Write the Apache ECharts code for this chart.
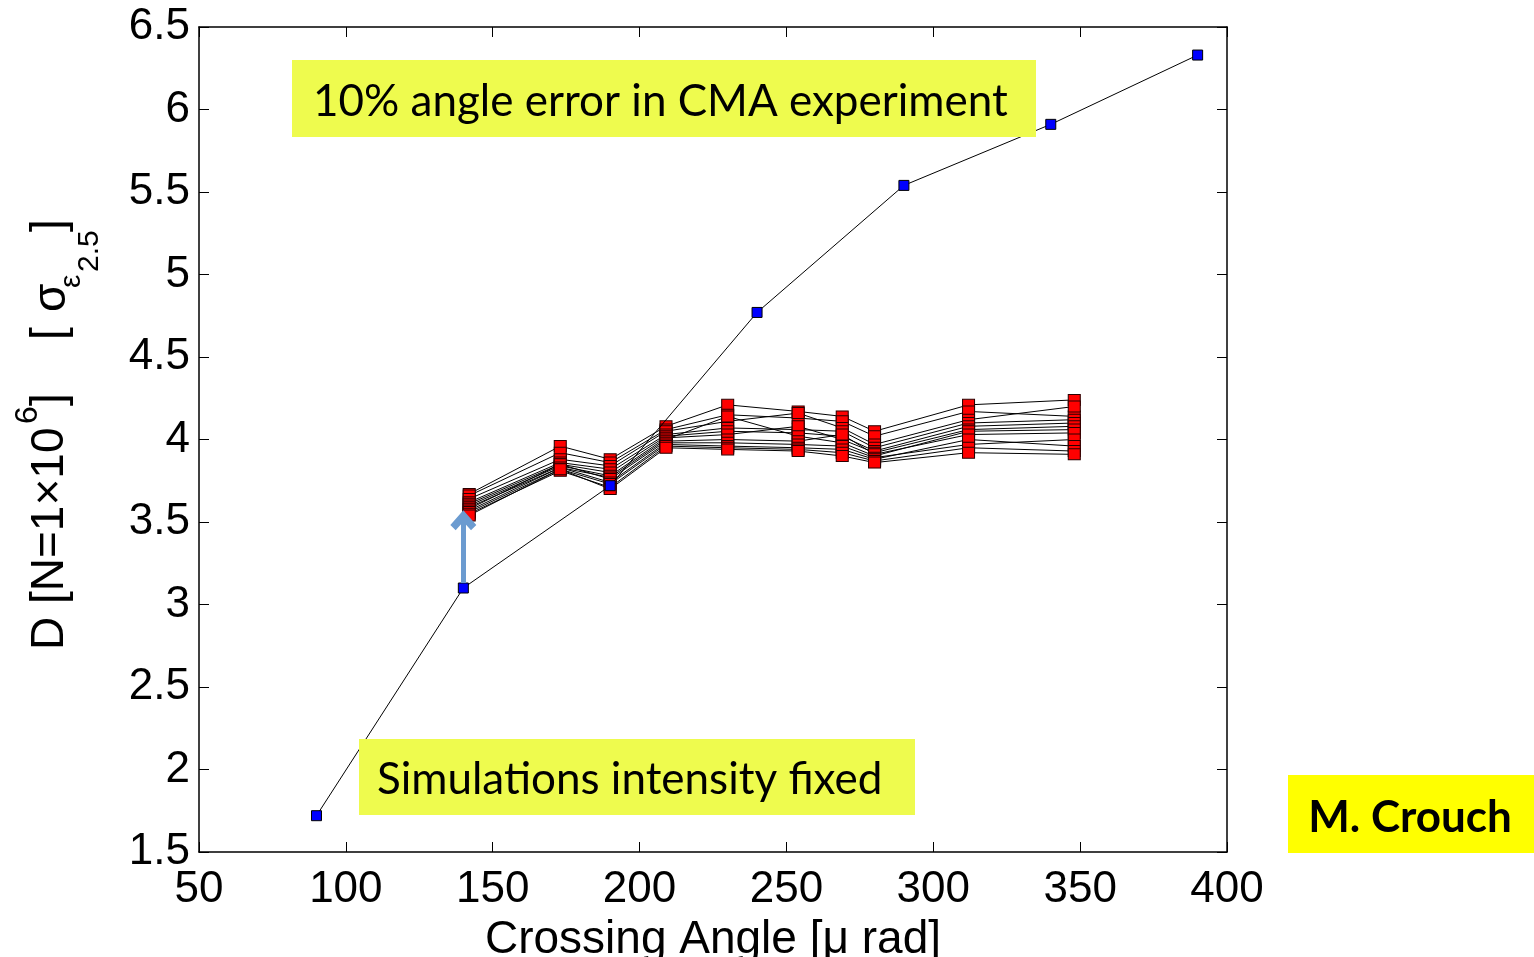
<!DOCTYPE html>
<html>
<head>
<meta charset="utf-8">
<script src="https://cdn.jsdelivr.net/npm/echarts@6/dist/echarts.min.js"></script>
<style>
  html, body { margin: 0; padding: 0; background: #fff; }
  #chart { width: 1534px; height: 957px; }
</style>
</head>
<body>
<div id="chart"></div>
<script>
// Crossing angles (μrad) and luminosity diffusion values
const cmaAngles = [90, 140, 190, 240, 290, 340, 390];
const cmaValues = [1.72, 3.10, 3.72, 4.77, 5.54, 5.91, 6.33];

const simAngles = [142, 173, 190, 209, 230, 254, 269, 280, 312, 348];
const simRuns = [
  [3.67, 3.96, 3.88, 4.08, 4.21, 4.17, 4.14, 4.05, 4.21, 4.24],
  [3.66, 3.92, 3.86, 4.06, 4.15, 4.13, 4.11, 4.02, 4.17, 4.14],
  [3.64, 3.88, 3.84, 4.05, 4.11, 4.16, 4.07, 3.97, 4.12, 4.20],
  [3.62, 3.86, 3.82, 4.03, 4.07, 4.06, 4.05, 3.95, 4.10, 4.12],
  [3.61, 3.85, 3.80, 4.02, 4.05, 4.04, 4.02, 3.93, 4.08, 4.10],
  [3.60, 3.84, 3.78, 4.01, 4.03, 4.08, 4.00, 3.92, 4.06, 4.08],
  [3.59, 3.83, 3.77, 4.00, 4.14, 4.02, 3.98, 3.90, 4.05, 4.06],
  [3.58, 3.85, 3.76, 3.99, 4.00, 3.99, 4.03, 3.91, 4.03, 4.04],
  [3.57, 3.83, 3.74, 3.98, 3.98, 3.97, 3.96, 3.89, 3.97, 4.00],
  [3.56, 3.82, 3.73, 3.97, 3.96, 3.95, 3.94, 3.88, 4.00, 3.96],
  [3.55, 3.81, 3.71, 3.96, 3.95, 3.94, 3.92, 3.87, 3.95, 3.93],
  [3.54, 3.82, 3.70, 3.95, 3.94, 3.93, 3.90, 3.86, 3.92, 3.91]
];

// arrow from the CMA point to the simulated band at the same angle
const shiftArrow = { angle: 140, from: 3.13, to: 3.51 };

const xTicks = { min: 50, max: 400, step: 50 };
const yTicks = { min: 1.5, max: 6.5, step: 0.5 };

const labelFont = 'Liberation Sans, Arial, Helvetica, sans-serif';
const noteFont = 'Lato, "Open Sans", sans-serif';

const chart = echarts.init(document.getElementById('chart'), null, { renderer: 'canvas' });

const grid = { left: 199, right: 307, top: 27, bottom: 105 };

function axisBase(showLabel) {
  return {
    axisLine: { show: true, onZero: false, lineStyle: { color: '#000', width: 1.5 } },
    axisTick: { show: true, inside: true, length: 10, lineStyle: { color: '#000', width: 1 } },
    splitLine: { show: false },
    axisLabel: { show: showLabel }
  };
}

const simSeries = simRuns.map((run, i) => ({
  type: 'line',
  name: 'sim' + i,
  data: simAngles.map((a, j) => [a, run[j]]),
  symbol: 'rect',
  symbolSize: [12, 11],
  showSymbol: true,
  lineStyle: { color: '#000', width: 1 },
  itemStyle: { color: '#ff0000', borderColor: '#2a0000', borderWidth: 1 },
  z: 3,
  animation: false
}));

// thick open chevron head, pointing up in symbol space
const chevron = 'path://M0,11 L11,0 L22,11 L17.5,15 L11,8.5 L4.5,15 Z';

const cmaSeries = {
  type: 'line',
  name: 'cma',
  data: cmaAngles.map((a, j) => [a, cmaValues[j]]),
  symbol: 'rect',
  symbolSize: 10,
  lineStyle: { color: '#000', width: 1 },
  itemStyle: { color: '#0000ff', borderColor: '#000', borderWidth: 1 },
  z: 4,
  animation: false,
  markLine: {
    silent: true,
    symbol: ['none', chevron],
    symbolSize: [26, 20],
    label: { show: false },
    itemStyle: { color: '#6b9bd0' },
    lineStyle: { color: '#6b9bd0', width: 5, type: 'solid' },
    data: [[{ coord: [shiftArrow.angle, shiftArrow.from] }, { coord: [shiftArrow.angle, shiftArrow.to] }]],
    animation: false
  }
};

// y-axis title, rotated; pieces laid out along the reading direction
const yTitleParts = [
  { text: 'D [N=1\u00d710', x: 0, y: 0, size: 46 },
  { text: '6', x: 226, y: -22, size: 32 },
  { text: ']', x: 244, y: 0, size: 46 },
  { text: '[', x: 310, y: 0, size: 46 },
  { text: '\u03c3', x: 338, y: 2, size: 46 },
  { text: '\u03b5', x: 362, y: 22, size: 30 },
  { text: '2.5', x: 378, y: 40, size: 30 },
  { text: ']', x: 418, y: 0, size: 46 }
];

const option = {
  backgroundColor: '#fff',
  animation: false,
  grid: Object.assign({ containLabel: false, outerBoundsMode: 'none', show: false }, grid),
  xAxis: [
    Object.assign(axisBase(true), {
      type: 'value', position: 'bottom',
      min: xTicks.min, max: xTicks.max, interval: xTicks.step,
      axisLabel: { show: true, color: '#000', fontSize: 44, fontFamily: labelFont, margin: 16 },
      name: 'Crossing Angle [\u03bc rad]',
      nameLocation: 'middle',
      nameGap: 60,
      nameTextStyle: { color: '#000', fontSize: 46, fontFamily: labelFont }
    }),
    Object.assign(axisBase(false), {
      type: 'value', position: 'top',
      min: xTicks.min, max: xTicks.max, interval: xTicks.step
    })
  ],
  yAxis: [
    Object.assign(axisBase(true), {
      type: 'value', position: 'left',
      min: yTicks.min, max: yTicks.max, interval: yTicks.step,
      axisLabel: { show: true, color: '#000', fontSize: 44, fontFamily: labelFont, margin: 9 }
    }),
    Object.assign(axisBase(false), {
      type: 'value', position: 'right',
      min: yTicks.min, max: yTicks.max, interval: yTicks.step
    })
  ],
  series: simSeries.concat([cmaSeries]),
  graphic: [
    {
      type: 'group',
      x: 50, y: 650,
      rotation: Math.PI / 2,
      children: yTitleParts.map(p => ({
        type: 'text',
        x: p.x, y: p.y,
        style: {
          text: p.text,
          fill: '#000',
          font: p.size + 'px ' + labelFont,
          textAlign: 'left',
          textVerticalAlign: 'middle'
        }
      }))
    },
    {
      type: 'rect', z: 10,
      shape: { x: 292, y: 60, width: 744, height: 77 },
      style: { fill: '#eefb4e' }
    },
    {
      type: 'text', z: 11,
      x: 313, y: 102,
      style: {
        text: '10% angle error in CMA experiment',
        fill: '#000', font: '44px ' + noteFont,
        textAlign: 'left', textVerticalAlign: 'middle'
      }
    },
    {
      type: 'rect', z: 10,
      shape: { x: 359, y: 739, width: 556, height: 76 },
      style: { fill: '#eefb4e' }
    },
    {
      type: 'text', z: 11,
      x: 377, y: 780,
      style: {
        text: 'Simulations intensity fixed',
        fill: '#000', font: '44px ' + noteFont,
        textAlign: 'left', textVerticalAlign: 'middle'
      }
    },
    {
      type: 'rect', z: 10,
      shape: { x: 1288, y: 775, width: 246, height: 78 },
      style: { fill: '#ffff00' }
    },
    {
      type: 'text', z: 11,
      x: 1410, y: 818,
      style: {
        text: 'M. Crouch',
        fill: '#000', font: 'bold 44px ' + noteFont,
        textAlign: 'center', textVerticalAlign: 'middle'
      }
    }
  ]
};

chart.setOption(option);
</script>
</body>
</html>
